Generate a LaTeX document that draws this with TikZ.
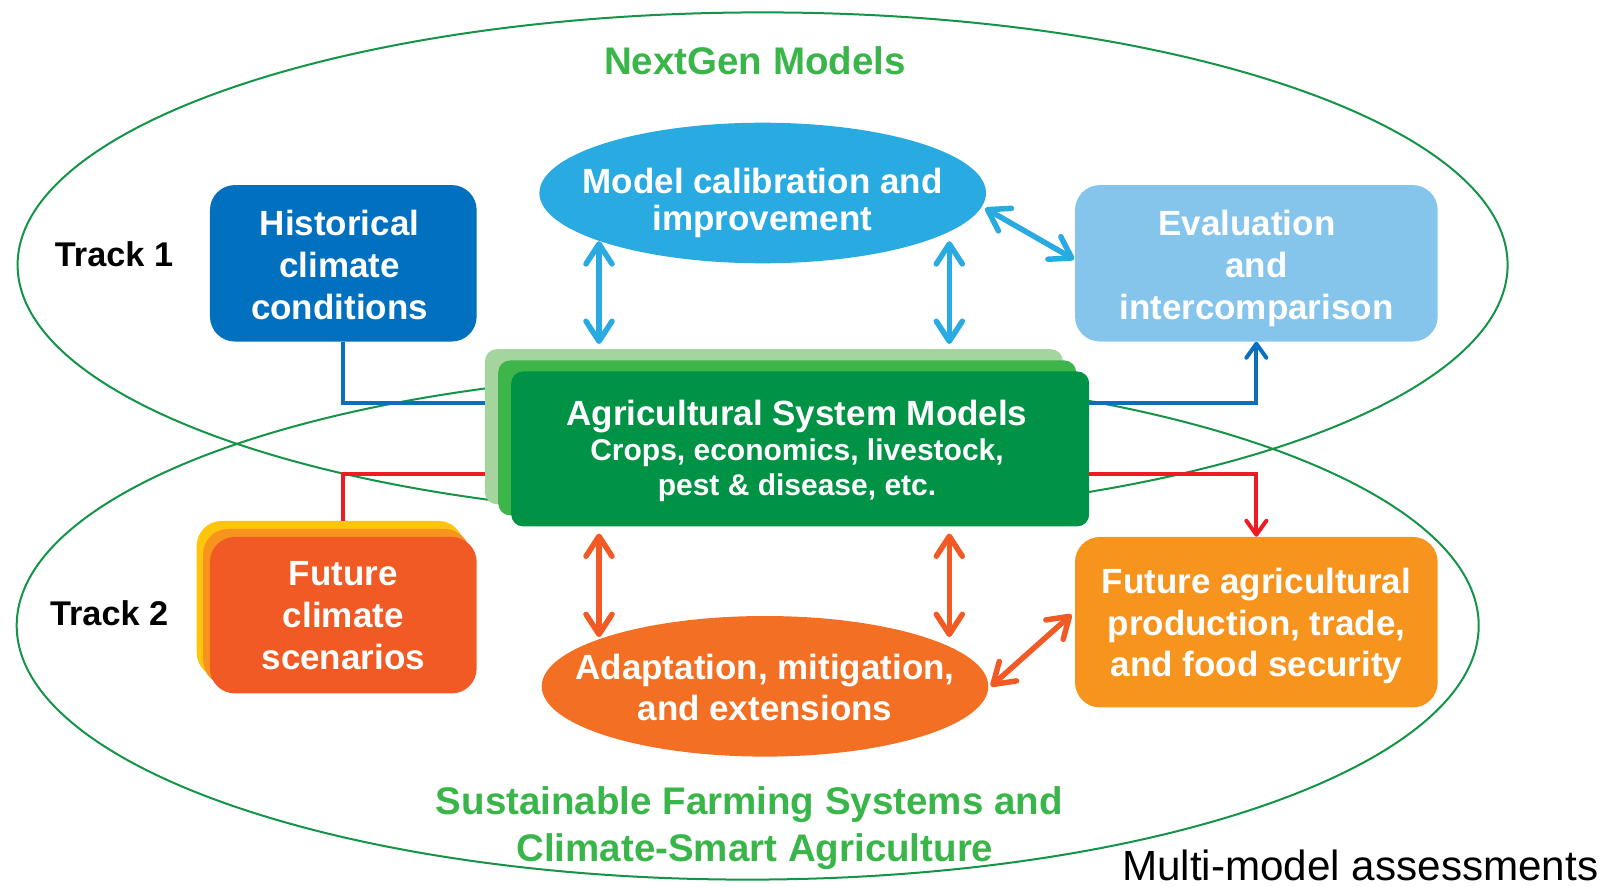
\documentclass[tikz,border=0pt]{standalone}
\usepackage{fontspec}
\setmainfont{Liberation Sans}
\usetikzlibrary{arrows.meta,shapes.geometric,calc}
\definecolor{cDarkBlue}{HTML}{0070BF}
\definecolor{cSky}{HTML}{29ABE2}
\definecolor{cPale}{HTML}{85C5EC}
\definecolor{cGa}{HTML}{A5D59F}
\definecolor{cGb}{HTML}{3DB54A}
\definecolor{cGc}{HTML}{009245}
\definecolor{cYel}{HTML}{FFC40C}
\definecolor{cOr}{HTML}{F7941E}
\definecolor{cRed}{HTML}{F15A24}
\definecolor{cAdapt}{HTML}{F36F23}
\definecolor{cRing}{HTML}{139447}
\definecolor{cTitle}{HTML}{3AB54A}
\definecolor{cLineRed}{HTML}{ED1C24}
\definecolor{cLineBlue}{HTML}{0B6FBF}
\newcommand\myst{\vphantom{Ag}}
\begin{document}
\begin{tikzpicture}[x=1pt,y=-1pt,
  ring/.style={draw=cRing,line width=2pt},
  rbox/.style={rectangle,rounded corners=25pt,inner sep=0pt,minimum width=266.7pt,minimum height=156.5pt},
  wbox/.style={rectangle,rounded corners=25pt,inner sep=0pt,minimum width=362.7pt},
  gbox/.style={rectangle,rounded corners=12pt,inner sep=0pt,minimum width=578pt,minimum height=155pt},
  oval/.style={ellipse,inner sep=0pt,minimum width=446.6pt,minimum height=140.6pt},
  boxtext/.style={text=white,font=\bfseries\fontsize{35}{42}\selectfont,align=center,inner sep=0pt},
  title/.style={text=cTitle,font=\bfseries\fontsize{38.5}{44}\selectfont,inner sep=0pt},
  track/.style={text=black,font=\bfseries\fontsize{34.3}{40}\selectfont,inner sep=0pt},
  dbl/.style={line width=5.5pt,line cap=round,
    arrows={Straight Barb[length=20pt,width=26pt,line cap=round,line join=round]-Straight Barb[length=20pt,width=26pt,line cap=round,line join=round]}},
  elbow/.style={line width=4pt},
  elbowarr/.style={line width=4pt,arrows={-Straight Barb[length=14pt,width=20pt,line cap=round,line join=round]}}
]
\useasboundingbox (0,0) rectangle (1616,886);

% the two large rings
\draw[ring] (762.6,264.9) ellipse [x radius=745pt, y radius=252.5pt];
\draw[ring] (747.7,625.6) ellipse [x radius=731pt, y radius=254pt];

% titles
\node[title,anchor=base] (ng) at (755,74.3) {NextGen Models};
\node[title,anchor=base] (sfa) at (749.3,814.2) {Sustainable Farming Systems and};
\node[title,anchor=base] (sfb) at (754.9,861.6) {Climate-Smart Agriculture};
\node[track,anchor=base] (tra) at (114,266.7) {Track 1};
\node[track,anchor=base] (trb) at (109.2,625.7) {Track 2};
\node[anchor=base west,inner sep=0pt,font=\fontsize{42.2}{48}\selectfont] (mm) at (1122,880) {Multi-model assessments};

% boxes
\node[rbox,fill=cDarkBlue] (hist) at (343.3,263.3) {};
\node[wbox,minimum height=156.5pt,fill=cPale] (eval) at (1256.35,263.3) {};
\node[wbox,minimum height=170.5pt,fill=cOr] (agri) at (1256.35,622.2) {};
\node[oval,fill=cSky] (cal) at (762.7,193) {};
\node[oval,fill=cAdapt] (adapt) at (765,686.3) {};

\node[rbox,fill=cYel] (fcy) at (330,599.2) {};
\node[rbox,fill=cOr] (fco) at (336.5,607.2) {};
\node[rbox,fill=cRed] (fcr) at (343.3,615.2) {};

\node[gbox,fill=cGa] (lg) at (773.9,426.7) {};
\node[gbox,fill=cGb] (mg) at (787.2,437.9) {};
\node[gbox,fill=cGc] (dg) at (800.2,448.9) {};

% texts
\node[boxtext] (histT) at (339.5,268.1) {\myst Historical\\climate\\conditions\myst};
\node[boxtext] (evalT) at (1256.4,268.1) {\myst Evaluation\hspace*{19pt}\\and\hspace*{19pt}\\intercomparison\myst};
\node[boxtext,font=\bfseries\fontsize{35}{37.4}\selectfont] (calT) at (762.5,203.1) {\myst Model calibration and\\improvement\myst};
\node[boxtext] (fcT) at (343.3,619.1) {\myst Future\\climate\\scenarios\myst};
\node[boxtext,font=\bfseries\fontsize{35}{41.7}\selectfont] (agriT) at (1256.5,626.1) {\myst Future agricultural\\production, trade,\\and food security\myst};
\node[boxtext,font=\bfseries\fontsize{35}{40.7}\selectfont] (adaptT) at (765,690.8) {\myst Adaptation, mitigation,\\and extensions\myst};
\node[boxtext,font=\bfseries\fontsize{30}{35}\selectfont] (asmT) at (797,450.6) {{\fontsize{35}{35}\selectfont\myst Agricultural System Models}\\Crops, economics, livestock,\\pest \& disease, etc.\myst};

% elbow connectors
\draw[elbow,cLineBlue] (hist.south) |- (lg.west |- 0,403);
\draw[elbowarr,cLineBlue] (dg.east |- 0,403) -| (eval.south);
\draw[elbow,cLineRed] (lg.west |- 0,474) -| (fcr.north |- fcy.north);
\draw[elbowarr,cLineRed] (dg.east |- 0,474) -| (agri.north);

% double arrows
\draw[dbl,cSky] ($(cal.south -| 599,0)+(0,-22.3)$) -- ($(lg.north -| 599,0)+(0,-5)$);
\draw[dbl,cSky] ($(cal.south -| 949.3,0)+(0,-22.3)$) -- ($(lg.north -| 949.3,0)+(0,-5)$);
\draw[dbl,cSky] ($(cal.east)+(-1,15.3)$) -- ($(eval.west)+(-0.7,-4)$);
\draw[dbl,cRed] ($(dg.south -| 599,0)+(0,6.9)$) -- ($(adapt.north -| 599,0)+(0,21.3)$);
\draw[dbl,cRed] ($(dg.south -| 949.3,0)+(0,6.9)$) -- ($(adapt.north -| 949.3,0)+(0,21.3)$);
\draw[dbl,cRed] ($(adapt.east)+(2.4,0)$) -- ($(agri.west)+(-3.3,-7.7)$);
\end{tikzpicture}
\end{document}
